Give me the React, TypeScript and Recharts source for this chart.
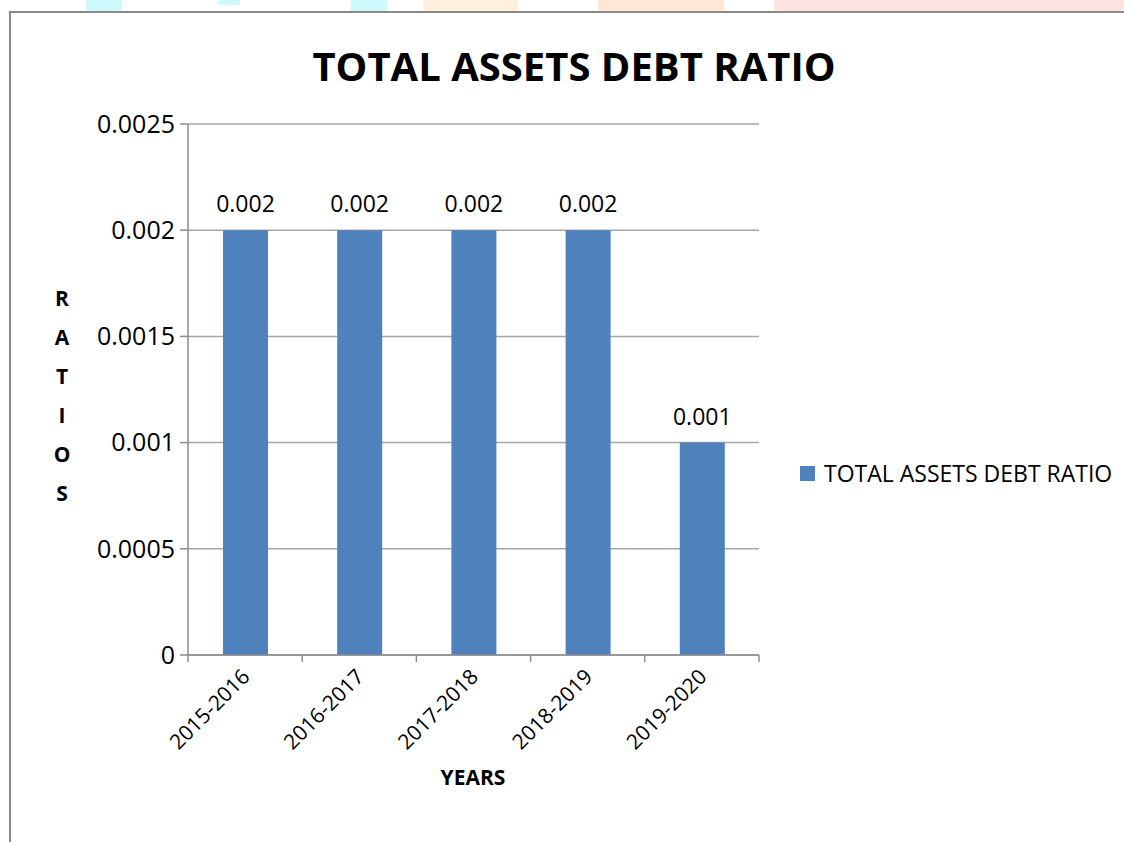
import { BarChart, Bar, XAxis, YAxis, CartesianGrid, Legend, LabelList } from 'recharts';

const categories = ['2015-2016', '2016-2017', '2017-2018', '2018-2019', '2019-2020'];
const ratios = [0.002, 0.002, 0.002, 0.002, 0.001];
const yTicks = [0, 0.0005, 0.001, 0.0015, 0.002, 0.0025];
const seriesName = 'TOTAL ASSETS DEBT RATIO';
const yLetters = ['R', 'A', 'T', 'I', 'O', 'S'];

const data = categories.map((year, i) => ({ year, ratio: ratios[i] }));

const FONT = "'Open Sans', sans-serif";
const BAR = '#4f81bd';
const AXIS = '#8c8c8c';
const GRID = '#a6a6a6';

// category label plus the small tick marks that sit on the band edges
const YearTick = (props: any) => {
  const { x, y, payload, index, width } = props;
  const n = categories.length;
  const half = (typeof width === 'number' && width > 0 ? width : 571) / n / 2;
  const ax = x + 6;
  const ay = y + 23;
  return (
    <g>
      <line x1={x - half} x2={x - half} y1={y} y2={y + 7} stroke={AXIS} strokeWidth={1.5} />
      {index === n - 1 && <line x1={x + half} x2={x + half} y1={y} y2={y + 7} stroke={AXIS} strokeWidth={1.5} />}
      <text
        x={ax}
        y={ay}
        transform={`rotate(-45 ${ax} ${ay})`}
        textAnchor="end"
        fontSize={21}
        fontFamily={FONT}
        fill="#000"
      >
        {payload.value}
      </text>
    </g>
  );
};

const LegendBox = () => (
  <div style={{ display: 'flex', alignItems: 'center', fontFamily: FONT, fontSize: 23, color: '#000', whiteSpace: 'nowrap' }}>
    <span style={{ display: 'inline-block', width: 15, height: 15, background: BAR, marginRight: 9 }} />
    {seriesName}
  </div>
);

export default function App() {
  return (
    <div style={{ position: 'absolute', left: 0, top: 0, width: 1124, height: 842, background: '#fff', overflow: 'hidden' }}>
      {/* faint watermark blobs above the frame */}
      <div style={{ position: 'absolute', left: 86, top: 0, width: 36, height: 11, background: '#cdf9fb' }} />
      <div style={{ position: 'absolute', left: 218, top: 0, width: 22, height: 5, background: '#cdf9fb', borderRadius: 8 }} />
      <div style={{ position: 'absolute', left: 351, top: 0, width: 36, height: 11, background: '#cdf9fb' }} />
      <div style={{ position: 'absolute', left: 423, top: 0, width: 95, height: 11, background: '#fff0e0' }} />
      <div style={{ position: 'absolute', left: 598, top: 0, width: 126, height: 11, background: '#ffe7d6' }} />
      <div style={{ position: 'absolute', left: 774, top: 0, width: 350, height: 11, background: '#fde4e0' }} />
      {/* frame */}
      <div style={{ position: 'absolute', left: 9, top: 11, width: 1130, height: 850, borderLeft: '2px solid #8a8a8a', borderTop: '2px solid #8a8a8a' }} />
      <div style={{ position: 'absolute', left: 0, top: 0 }}>
        <BarChart width={1124} height={842} data={data} margin={{ top: 124, right: 365, bottom: 0, left: 0 }}>
          <CartesianGrid vertical={false} stroke={GRID} strokeWidth={1.5} />
          <XAxis
            dataKey="year"
            height={187}
            tickLine={false}
            tickSize={0}
            tickMargin={0}
            axisLine={{ stroke: AXIS, strokeWidth: 1.5 }}
            tick={<YearTick />}
            interval={0}
          />
          <YAxis
            width={188}
            domain={[0, 0.0025]}
            ticks={yTicks}
            interval={0}
            tickSize={8}
            tickMargin={5}
            axisLine={{ stroke: AXIS, strokeWidth: 1.5 }}
            tickLine={{ stroke: AXIS, strokeWidth: 1.5 }}
            tick={{ fill: '#000', fontSize: 25, fontFamily: FONT }}
          />
          <Legend
            layout="horizontal"
            verticalAlign="middle"
            align="center"
            wrapperStyle={{ left: 800, top: 457, width: 'auto', height: 'auto' }}
            content={<LegendBox />}
          />
          <Bar dataKey="ratio" name={seriesName} fill={BAR} barSize={45} isAnimationActive={false}>
            <LabelList dataKey="ratio" position="top" offset={18} fill="#000" fontSize={23} fontFamily={FONT} />
          </Bar>
          <text x={574} y={81} textAnchor="middle" fontSize={40} fontWeight="bold" fontFamily={FONT} fill="#000">
            {seriesName}
          </text>
          {yLetters.map((ch, i) => (
            <text key={ch + i} x={62} y={306 + i * 39} textAnchor="middle" fontSize={21} fontWeight="bold" fontFamily={FONT} fill="#000">
              {ch}
            </text>
          ))}
          <text x={473} y={785} textAnchor="middle" fontSize={21} fontWeight="bold" fontFamily={FONT} fill="#000">
            YEARS
          </text>
        </BarChart>
      </div>
    </div>
  );
}
